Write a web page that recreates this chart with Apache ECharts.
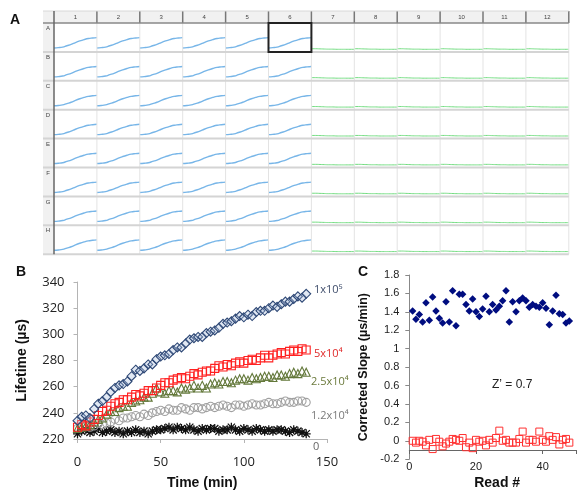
<!DOCTYPE html>
<html>
<head>
<meta charset="utf-8">
<script src="https://cdn.jsdelivr.net/npm/echarts@6/dist/echarts.min.js"></script>
<style>
html, body { margin: 0; padding: 0; background: #fff; }
#main { width: 579px; height: 491px; }
</style>
</head>
<body>
<div id="main"></div>
<script>
// ---- panel A : plate map ----
var colLabels = ['1', '2', '3', '4', '5', '6', '7', '8', '9', '10', '11', '12'];
var rowLabels = ['A', 'B', 'C', 'D', 'E', 'F', 'G', 'H'];
var wellX = [0, 1, 2, 3, 4, 5, 6, 7, 8, 9, 10];
var activeCurve = [11, 12, 14, 19, 24, 31, 37, 42, 46, 48, 49.5];
var blankCurve = [8, 8, 7.5, 7, 6.5, 6.5, 6, 6, 6, 6, 6];
var activeCols = 6;

// ---- panel B : lifetime vs time ----
var timeMin = [0, 2.5, 5, 7.5, 10, 12.5, 15, 17.5, 20, 22.5, 25, 27.5, 30, 32.5, 35, 37.5, 40, 42.5, 45, 47.5,
    50, 52.5, 55, 57.5, 60, 62.5, 65, 67.5, 70, 72.5, 75, 77.5, 80, 82.5, 85, 87.5, 90, 92.5, 95, 97.5,
    100, 102.5, 105, 107.5, 110, 112.5, 115, 117.5, 120, 122.5, 125, 127.5, 130, 132.5, 135, 137.5];
var life1e5 = [234, 237, 238, 236, 243, 247, 249, 252, 256, 259, 261, 262, 264, 268, 273, 272, 274, 277, 277, 281,
    283, 284, 285, 288, 290, 290, 293, 296, 297, 298, 298, 301, 302, 303, 305, 308, 309, 310, 312, 314,
    313, 315, 314, 317, 318, 318, 320, 322, 321, 323, 325, 325, 327, 329, 328, 331];
var life5e4 = [229, 231, 230, 233, 235, 238, 241, 242, 245, 247, 248, 250, 250, 252, 254, 253, 255, 257, 257, 259,
    261, 263, 263, 265, 266, 267, 266, 268, 270, 269, 271, 272, 272, 274, 276, 275, 277, 276, 278, 279,
    278, 280, 281, 280, 282, 284, 282, 284, 285, 286, 285, 287, 288, 287, 289, 288];
var life25e3 = [228, 229, 230, 231, 233, 235, 236, 239, 241, 241, 244, 245, 245, 248, 249, 250, 252, 252, 255, 259,
    256, 255, 257, 257, 256, 259, 258, 259, 261, 259, 261, 259, 262, 263, 262, 264, 264, 263, 265, 266,
    266, 265, 267, 266, 267, 268, 268, 267, 269, 269, 268, 270, 271, 270, 272, 271];
var life12e3 = [228, 229, 230, 229, 230, 232, 231, 232, 233, 235, 234, 236, 236, 237, 238, 237, 239, 238, 240, 241,
    242, 241, 243, 242, 242, 244, 243, 242, 244, 244, 243, 244, 245, 244, 245, 246, 245, 244, 246, 246,
    245, 246, 247, 246, 246, 247, 248, 247, 247, 248, 249, 248, 248, 249, 249, 248];
var life0 = [224, 226, 227, 225, 226, 228, 225, 226, 227, 225, 226, 224, 226, 225, 227, 225, 226, 224, 226, 227,
    227, 228, 229, 227, 229, 228, 227, 229, 227, 226, 228, 227, 228, 228, 226, 227, 227, 229, 227, 226,
    228, 227, 226, 228, 227, 226, 227, 226, 227, 227, 226, 225, 227, 226, 225, 224];

// ---- panel C : corrected slope per read ----
var readNo = [1, 2, 3, 4, 5, 6, 7, 8, 9, 10, 11, 12, 13, 14, 15, 16, 17, 18, 19, 20, 21, 22, 23, 24,
    25, 26, 27, 28, 29, 30, 31, 32, 33, 34, 35, 36, 37, 38, 39, 40, 41, 42, 43, 44, 45, 46, 47, 48];
var slopePos = [1.41, 1.32, 1.37, 1.29, 1.50, 1.31, 1.56, 1.41, 1.33, 1.28, 1.51, 1.29, 1.63, 1.25, 1.59, 1.59,
    1.48, 1.41, 1.54, 1.40, 1.35, 1.43, 1.57, 1.40, 1.48, 1.42, 1.46, 1.52, 1.63, 1.29, 1.51, 1.40,
    1.52, 1.55, 1.52, 1.45, 1.48, 1.46, 1.45, 1.50, 1.44, 1.26, 1.41, 1.58, 1.38, 1.37, 1.28, 1.30];
var slopeNeg = [0.00, -0.02, 0.00, -0.01, -0.05, 0.01, -0.09, 0.02, -0.01, -0.06, -0.03, -0.01, 0.02, 0.01, 0.00, 0.03,
    -0.07, -0.02, -0.08, 0.01, -0.01, 0.00, -0.05, 0.01, -0.02, 0.03, 0.11, 0.00, 0.01, -0.02, -0.02, -0.02,
    0.02, 0.10, -0.02, 0.01, 0.01, -0.01, 0.10, 0.01, -0.01, 0.05, 0.01, 0.04, -0.04, 0.01, 0.02, -0.02];

function pairs(xs, ys) {
    return xs.map(function (x, i) { return [x, ys[i]]; });
}

var chart = echarts.init(document.getElementById('main'), null, { renderer: 'canvas' });

var grids = [], xAxes = [], yAxes = [], series = [], graphics = [];

/**
 * 面板A - 96孔板
 */
var tblLeft = 43, bodyLeft = 54, hdrTop = 11, bodyTop = 23, cellW = 42.9, cellH = 28.9;
var tblRight = bodyLeft + cellW * colLabels.length;
var tblBottom = bodyTop + cellH * rowLabels.length;

rowLabels.forEach(function (row, r) {
    colLabels.forEach(function (col, c) {
        var idx = grids.length;
        grids.push({ left: bodyLeft + c * cellW, top: bodyTop + r * cellH + 1, width: cellW, height: cellH - 2 });
        xAxes.push({ gridIndex: idx, type: 'value', min: 0, max: 10, show: false });
        yAxes.push({ gridIndex: idx, type: 'value', min: 0, max: 100, show: false });
        var active = c < activeCols;
        series.push({
            type: 'line', xAxisIndex: idx, yAxisIndex: idx, silent: true,
            symbol: 'none', smooth: true,
            lineStyle: { color: active ? '#78b6e8' : '#72dc80', width: active ? 1.4 : 1 },
            data: pairs(wellX, active ? activeCurve : blankCurve)
        });
    });
});

graphics.push({ type: 'rect', z: 0, shape: { x: tblLeft, y: hdrTop, width: tblRight - tblLeft, height: bodyTop - hdrTop }, style: { fill: '#f1f1f1' } });
graphics.push({ type: 'rect', z: 0, shape: { x: tblLeft, y: bodyTop, width: bodyLeft - tblLeft, height: tblBottom - bodyTop }, style: { fill: '#f1f1f1' } });
colLabels.forEach(function (col, c) {
    graphics.push({ type: 'text', z: 5, x: bodyLeft + (c + 0.5) * cellW, y: 17,
        style: { text: col, fontSize: 6, fill: '#444', align: 'center', verticalAlign: 'middle', fontFamily: 'Liberation Sans' } });
    graphics.push({ type: 'line', z: 5, shape: { x1: bodyLeft + (c + 1) * cellW, y1: bodyTop, x2: bodyLeft + (c + 1) * cellW, y2: tblBottom },
        style: { stroke: '#e3e3e3', lineWidth: 1 } });
    graphics.push({ type: 'line', z: 5, shape: { x1: bodyLeft + (c + 1) * cellW, y1: hdrTop, x2: bodyLeft + (c + 1) * cellW, y2: bodyTop },
        style: { stroke: '#777', lineWidth: 1.5 } });
});
rowLabels.forEach(function (row, r) {
    graphics.push({ type: 'text', z: 5, x: 48, y: bodyTop + r * cellH + 5.5,
        style: { text: row, fontSize: 6, fill: '#444', align: 'center', verticalAlign: 'middle', fontFamily: 'Liberation Sans' } });
    graphics.push({ type: 'line', z: 5, shape: { x1: tblLeft, y1: bodyTop + (r + 1) * cellH, x2: tblRight, y2: bodyTop + (r + 1) * cellH },
        style: { stroke: '#d4d4d4', lineWidth: 2 } });
});
graphics.push({ type: 'line', z: 6, shape: { x1: tblLeft, y1: hdrTop, x2: tblRight, y2: hdrTop }, style: { stroke: '#d8d8d8', lineWidth: 1 } });
graphics.push({ type: 'line', z: 6, shape: { x1: tblLeft, y1: bodyTop, x2: tblRight, y2: bodyTop }, style: { stroke: '#888', lineWidth: 1.5 } });
graphics.push({ type: 'line', z: 6, shape: { x1: bodyLeft, y1: hdrTop, x2: bodyLeft, y2: tblBottom }, style: { stroke: '#666', lineWidth: 1.5 } });
graphics.push({ type: 'rect', z: 7, shape: { x: bodyLeft + 5 * cellW, y: bodyTop, width: cellW, height: cellH }, style: { fill: 'none', stroke: '#222', lineWidth: 2 } });

/**
 * 面板B - 寿命随时间变化
 */
var bIdx = grids.length;
grids.push({ left: 77.5, top: 282, width: 249.5, height: 159.7 });
xAxes.push({
    gridIndex: bIdx, type: 'value', min: 0, max: 150, interval: 50,
    name: 'Time (min)', nameLocation: 'middle', nameGap: 37,
    nameTextStyle: { fontFamily: 'Liberation Sans', fontWeight: 'bold', fontSize: 14, color: '#111' },
    axisLine: { lineStyle: { color: '#b4b4b4' } },
    axisTick: { length: 4, lineStyle: { color: '#b4b4b4' } },
    axisLabel: { margin: 17, fontFamily: 'Open Sans', fontSize: 13, color: '#222' },
    splitLine: { show: false }
});
yAxes.push({
    gridIndex: bIdx, type: 'value', min: 220, max: 340, interval: 20,
    name: 'Lifetime (\u00b5s)', nameLocation: 'middle', nameGap: 48,
    nameTextStyle: { fontFamily: 'Liberation Sans', fontWeight: 'bold', fontSize: 14, color: '#111' },
    axisLine: { show: true, lineStyle: { color: '#b4b4b4' } },
    axisTick: { show: true, length: 4, lineStyle: { color: '#b4b4b4' } },
    axisLabel: { margin: 13, fontFamily: 'Open Sans', fontSize: 13, color: '#222' },
    splitLine: { show: false }
});
var starPath = 'path://M4.3 0H5.7V10H4.3Z M0 4.3H10V5.7H0Z M1.5 0.5L9.5 8.5L8.5 9.5L0.5 1.5Z M8.5 0.5L9.5 1.5L1.5 9.5L0.5 8.5Z';
var bSeries = [
    { name: '0', data: life0, symbol: starPath, size: 9, fill: '#111', stroke: '#111' },
    { name: '1.2x10^4', data: life12e3, symbol: 'circle', size: 8, fill: 'rgba(255,255,255,0)', stroke: '#a0a0a0' },
    { name: '2.5x10^4', data: life25e3, symbol: 'triangle', size: 8, fill: 'rgba(255,255,255,0)', stroke: '#63783a' },
    { name: '5x10^4', data: life5e4, symbol: 'rect', size: 8, fill: 'rgba(255,255,255,0)', stroke: '#ff2020' },
    { name: '1x10^5', data: life1e5, symbol: 'diamond', size: 9, fill: 'rgba(170,190,220,0.35)', stroke: '#2d4775' }
];
bSeries.forEach(function (s) {
    series.push({
        type: 'scatter', name: s.name, xAxisIndex: bIdx, yAxisIndex: bIdx, silent: true,
        symbol: s.symbol, symbolSize: s.size,
        itemStyle: { color: s.fill, opacity: 1, borderColor: s.stroke, borderWidth: s.symbol === starPath ? 0 : 1.1 },
        data: pairs(timeMin, s.data)
    });
});
var bLabels = [
    { text: '1x10\u2075', x: 314, y: 290, color: '#3f4d6b' },
    { text: '5x10\u2074', x: 314, y: 354, color: '#e02a2a' },
    { text: '2.5x10\u2074', x: 311, y: 382, color: '#6b7a3c' },
    { text: '1.2x10\u2074', x: 311, y: 416, color: '#7a7a7a' },
    { text: '0', x: 313, y: 447, color: '#666' }
];
bLabels.forEach(function (l) {
    graphics.push({ type: 'text', z: 10, x: l.x, y: l.y,
        style: { text: l.text, fontSize: 11, fill: l.color, verticalAlign: 'middle', fontFamily: 'Open Sans' } });
});

/**
 * 面板C - 校正斜率
 */
var cIdx = grids.length;
grids.push({ left: 409.3, top: 275, width: 172.5, height: 184.5 });
xAxes.push({
    gridIndex: cIdx, type: 'value', min: 0, max: 50, interval: 20, offset: -9.2,
    name: 'Read #', nameLocation: 'middle', nameGap: 26,
    nameTextStyle: { fontFamily: 'Liberation Sans', fontWeight: 'bold', fontSize: 14, color: '#111', padding: [0, 0, 0, 9] },
    axisLine: { onZero: false, lineStyle: { color: '#666' } },
    axisTick: { length: 4, lineStyle: { color: '#666' } },
    axisLabel: { margin: 11, fontFamily: 'Liberation Sans', fontSize: 11, color: '#222',
        formatter: function (v) { return v % 20 === 0 ? String(v) : ''; } },
    splitLine: { show: false }
});
yAxes.push({
    gridIndex: cIdx, type: 'value', min: -0.2, max: 1.8, interval: 0.2,
    name: 'Corrected Slope (\u00b5s/min)', nameLocation: 'middle', nameGap: 39,
    nameTextStyle: { fontFamily: 'Liberation Sans', fontWeight: 'bold', fontSize: 12.5, color: '#111' },
    axisLine: { show: true, onZero: false, lineStyle: { color: '#888' } },
    axisTick: { show: true, length: 4, lineStyle: { color: '#888' } },
    axisLabel: { margin: 10, fontFamily: 'Liberation Sans', fontSize: 11, color: '#222',
        formatter: function (v) { return String(+v.toFixed(1)); } },
    splitLine: { show: false }
});
series.push({
    type: 'scatter', name: 'positive', xAxisIndex: cIdx, yAxisIndex: cIdx, silent: true,
    symbol: 'diamond', symbolSize: 7.5,
    itemStyle: { color: '#000d80', opacity: 1 },
    data: pairs(readNo, slopePos)
});
series.push({
    type: 'scatter', name: 'negative', xAxisIndex: cIdx, yAxisIndex: cIdx, silent: true,
    symbol: 'rect', symbolSize: 7,
    itemStyle: { color: 'rgba(255,255,255,0)', opacity: 1, borderColor: '#ff3030', borderWidth: 1 },
    data: pairs(readNo, slopeNeg)
});
graphics.push({ type: 'text', z: 10, x: 492, y: 385,
    style: { text: 'Z\u2019 = 0.7', fontSize: 12, fill: '#222', verticalAlign: 'middle', fontFamily: 'Liberation Sans' } });

// panel letters
[['A', 15, 20], ['B', 21, 272], ['C', 363, 272]].forEach(function (p) {
    graphics.push({ type: 'text', z: 10, x: p[1], y: p[2],
        style: { text: p[0], fontSize: 14, fontWeight: 'bold', fill: '#111', align: 'center', verticalAlign: 'middle', fontFamily: 'Liberation Sans' } });
});

chart.setOption({
    animation: false,
    backgroundColor: '#fff',
    grid: grids,
    xAxis: xAxes,
    yAxis: yAxes,
    series: series,
    graphic: { elements: graphics }
});
</script>
</body>
</html>
